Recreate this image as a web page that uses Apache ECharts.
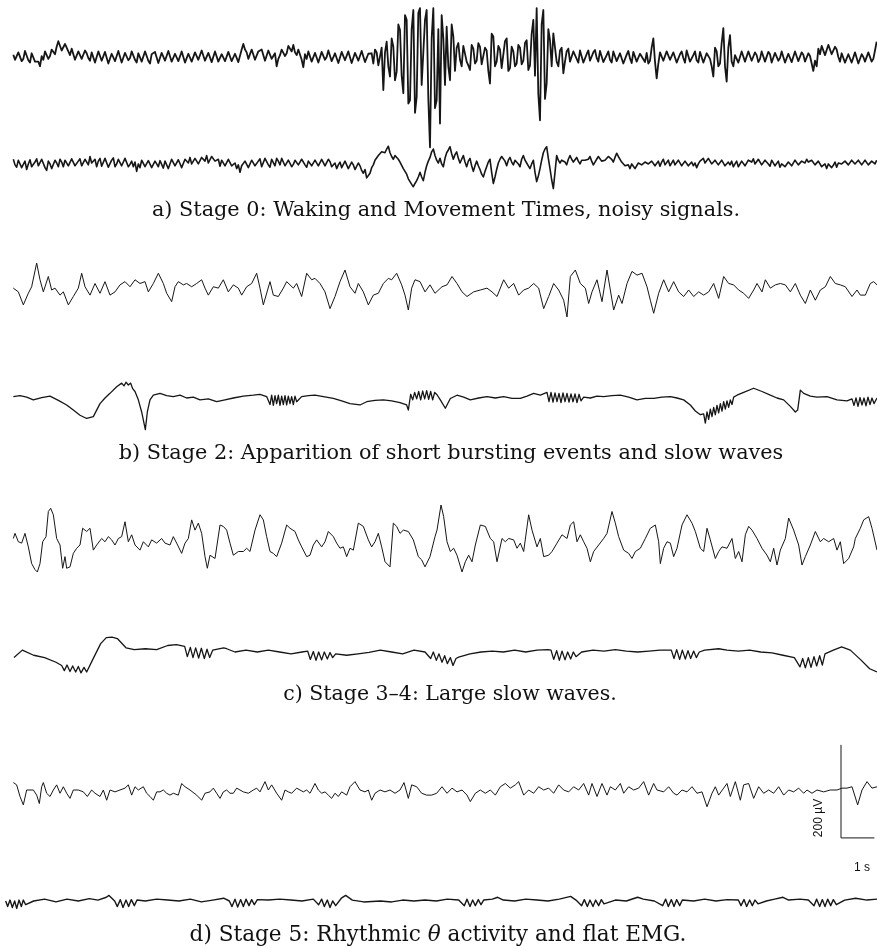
<!DOCTYPE html>
<html>
<head>
<meta charset="utf-8">
<script src="https://cdn.jsdelivr.net/npm/echarts@6/dist/echarts.min.js"></script>
<style>
html, body { margin: 0; padding: 0; background: #ffffff; }
#chart { width: 877px; height: 948px; }
</style>
</head>
<body>
<div id="chart"></div>
<script>
// Recordings are indexed by sample number, sampled at 100 Hz.
const FS = 100;
const N_SAMPLES = 2631;

// Stage 0 channels: one value every 5 samples, starting at sample 40 (µV).
const STAGE0_START = 40;
const STAGE0_STEP = 5;
const stage0Eeg = [
  5, -6, -8, 10, 12, -9, -4, 13, 9, -7, -12, 8, 6, -10, -6, -10,
  -20, 2, -6, 12, 8, -4, 2, 16, 14, 6,
  22, 34, 30, 14, 18, 28, 24, 12,
  4, 18, 14, -6, -2, 12, 10, -4, 0, 14, 8, -2,
  -8, 10, 6, -12, -10, 12, 10, -8, -4, 11, 8, -14, -12, 7, 4, -9, -6, 13, 10, -12, -10, 9, 6, -7, -2, 12, 9, -6,
  -12, 8, 4, -10, -6, 12, 10, -8, -14, 6, 2, 11, 8, -13, -10, 9, 6, -8, -4, 13,
  11, -10, -12, 7, 3, -9, -6, 12, 10, -12, -9, 7, 4, -10, -13, 10, 7, -6, -3, 14,
  12, -8, -10, 9, 5, -11, -8, 12, 9, -10, -14, 6, 2, -9, -6, 11, 8, -9, -12, 7, 3, -11, -8, 16,
  28, 16,
  10, -4, 0, 16, 14, -6, -2, 12, 8, 16, 12, -8, -6, 14, 10, -4, 2, 8,
  -20, -4,
  4, 16, 14, 2, 8, 24, 20, 12,
  26, 10,
  4, 16, 12, -6,
  -22, 6,
  -4, 12, 10, -10, -8, 9, 6, -12, -10, 11, 8, -6, 0, 14, 12, -9, -6, 8, 4, -13,
  -12, 11, 9, -7, -3, 12, 8, -13, -10, 9, 6, -8, -5, 13, 11, -11, -8, 7, 3, 8,
  -14, 16, 10, -18, -20, 20,
  -71, 10, 33, -20, -42, 40, 22, -50, -32, 70, 58, -40, -78, 90, 80, -100, -93, 60, 101, -120,
  -86, 95, 105, -60, -57, 80, 101, -90, -194, 40, 105, -110, -93, 60,
  -143, 90, 40, -60, 65, -20, -50, 70, 44, -30,
  20, 30, -6, -20, 24, 28, -10, -18, -28, 26, 18, -14, -8, 30, 22, -16, -12, 20, 14, -30,
  -57, 50, 44, -20, -10, 24, 16, -24, -20, 34, 40, -30, -24, 22, 12, -20, -14, 26, 20, -16,
  -8, 30, 36, -28, -18, 50, 80, -40,
  105, -80, -136, 70, 101, -90, -57, 60, 36, -20, 51, 20, -10, -20, 14, 20, -35, -10, 12, 18,
  -10, -14, 12, 16, -4, -12, 14, 10, -12, -16, 6, 14, -8, -12, 10, 15, -2, -10, 13, 9,
  -11, -14, 4, 12, -6, -12, 12, 14, -9, -13, 8, 12, -14, -10, 5, 13, -3, -13, 11, 14,
  -10, -12, 7, 11, -5, -11, 9, -14,
  -8, 20, 40, -10, -46, -14, 10, 14,
  -8, -12, 12, 14, -6, -10, 10, 13, -12, -8, 6, 12, -2, -12, 14, 10, -10, -14, 4, 12,
  -7, -12, 11, 13, -12, -9, 8, 12, -4, -20,
  -42, 20, 12, -20, -14, 30, 62, -20, -53, 20, 47, -10, -20, 4, 8, -12,
  -10, 12, 8, -10, -6, 12, 10, -8, -12, 10, 4, -11, -4, 12, 9, -10, -8, 11, 6, -12,
  -13, 9, 7, -8, -2, 12, 10, -12, -9, 7, 3, -11, -7, 12, 8, -9, -11, 10, 5, -10,
  -6, 8, 2, -14,
  -30, -8, -20, 18,
  6, 24, 20, 4, 8, 26, 24, 6, 4, 22, 16, 0,
  -10, 8, 4, -12, -14, 6, 2, -12, -8, 10, 6, -14, -12, 6, 0, -10, -6, 10, 8, -10, -4, 14,
  33
];
const stage0Emg = [
  8, -4, -9, 6, 10, -10, -6, 4, -14, -2, 7, -8, -12, 2, 9, -6, -5, 8, 6, -10,
  -16, 4, -2, -12, -14, 6, 0, -8,
  8, 2, -8, 6, 10, -6, -4, 9, 7, -6, -10, 4, 9, -6, -2, 8, 5, -4,
  14, 0,
  4, 8, -8, 4, 10, -7, -3, 10, 8, -9, -6, 6, 11, -8, -2, 8, 9, -6, -5, 10, 10, -8, -3, 4, -8, 2,
  -18, -2,
  -10, 6, 3, -8, -12, 5, 1, -10, -14, 4, -2, -8, 5, 2, -11, 4, 3, -12, -9, 8, 6, -6, -10, 7, 4, -10, -8, 8, 7, 0,
  12, -2, 0, 10, 14, -2, 2, 12, 9, 4, 16, 0, 2, 14, 18, 4,
  6, 8, -7, 6, 5, -6, -9, 8, 6, -6, -10, 0, -12, -4,
  -20, -6,
  -8, 4, 6, -10, -8, 6, 8, -6, -7, 4, 9, -8, -6, 10, 7, -4, -9, 8, 5, -6,
  10, 4, -4, 10, 8, -6, -8, 6, 7, -8, -3, 6, 9, -4, -7, 8, 5, -4, -9, 4, 8, -6,
  -5, 6, 7, -6, -8, 8, 5, -6, -10, 8, 3, -8, -7, 0,
  -12, -4, 2, -10, -14, 4, 0, -12, -16, 2, -4, -14, -18, 0, -6, -16, -22, -14,
  -32, -30,
  -22, -10, -4, 6, 8, 16, 12, 24, 26, 22, 30, 36, 22, 14,
  8, 16, 20, 8, 2, -2,
  -12, -18, -24, -34, -40, -46, -51, -44, -38, -30,
  -20, -30, -38, -20, -6, 4, 12, 24, 30, 16, 6, 0,
  10, -2, -8, 10, 22, 28, 35, 20,
  8, 18, 24, 10, 0, 8, 16, 2, -8, 4, 10, -6, -18, -6, 4, -6, -14, -24, -30, -18, -8, 2, 8, -20,
  -44, -30,
  -14, 0, 8, 14, 16, 4, -6, 6, 12, 2, -4, 6, 10, -2, -8, 8, 16, 6, 0, -6, -12, -2, 6, -20,
  -40, -28,
  -12, 6, 22, 30,
  35, 10,
  -12, -36,
  -55, -20,
  16, 6, 0, 6, 10, 2, -4, 8, 16, 8, 2, 6, 12, 4, -2, 6, 10, 6, 2, 8,
  14, 4, -4, 2, 8, 14, 12, 4, 0, 6, 10, 14, 16, 8, 2, 12, 21, 14,
  10, 2, -2, -6, -8, -4, -12, -2, -4, -12, -10, 0, 4, -4, -6, 2, 6, -2, -5, 4, 7, -6,
  -3, 4, -7, 2, 8, -4, 0, 6, -6, -2, 6, -4, -5, 6, 5, -6, -9, 4, -1, -6, -10, 2,
  -6, 0, -10, -2, 4, 8, 10, 0, 2, 10, 8, -2, -5, 6, 5, -4, -8, 6, 2, -6, -9, 2,
  -4, 4, -8, -2, 4, -8, -6, 4, 6, -6, -2, 6, 8, 2, 9, -2, 1, 8, 7, -4, -5, 6,
  4, -2, -7, 6, 5, -6, -4, 4, -9, -2, 2, -8, -10, 2, -1, -6, -8, 6, 4, -4, -6, 4,
  6, 0, 8, 2, -2, 6, 5, -4, -7, 4, 0, -8, -10, -2, -12, -2, -4, -10, -5, 2, -9, 0,
  2, -2, -6, 4, 5, -4, 0, 6, 7, -2, -5, 6, 4, -4, -6, 6, 2, -4, -7, 4, 0, -2, 6
];

// Stage 2 channels: [sample, µV]
const stage2Eeg = [
  [40,4],[55,-4],[70,-32],[85,-7],[95,7],[110,58],[120,22],[130,-4],[145,29],[155,0],[165,4],[180,-11],
  [190,-4],[205,-32],[220,-14],[235,4],[245,36],[255,7],[270,-11],[285,14],[300,-7],[315,18],[330,-11],
  [345,-4],[360,11],[375,18],[390,7],[405,22],[420,14],[435,18],[445,-4],[460,14],[475,36],[490,14],
  [500,-7],[515,-25],[525,7],[535,18],[550,11],[560,14],[575,7],[590,14],[605,22],[615,4],[625,-11],
  [640,7],[655,4],[670,22],[685,-4],[700,11],[715,4],[725,-11],[740,7],[755,14],[770,36],[780,4],
  [790,-32],[810,18],[820,-11],[835,-14],[850,4],[860,18],[880,4],[890,14],[905,-14],[920,36],[935,22],
  [945,25],[960,14],[975,-4],[990,-40],[1005,-14],[1020,18],[1035,43],[1050,7],[1065,-7],[1075,14],
  [1090,-4],[1105,-32],[1120,-11],[1135,-7],[1150,14],[1165,25],[1175,22],[1190,36],[1205,11],[1215,-11],
  [1225,-43],[1235,4],[1245,22],[1260,18],[1275,-4],[1290,11],[1305,-7],
  [1311,-7],[1326,7],[1341,11],[1356,29],[1371,14],[1386,-4],[1401,-14],[1421,-4],[1441,0],[1461,4],
  [1476,-4],[1491,-14],[1511,22],[1526,4],[1541,14],[1556,-11],[1571,0],[1586,4],[1601,14],[1616,4],
  [1631,-40],[1646,-14],[1661,14],[1676,0],[1691,-22],[1701,-58],[1711,29],[1726,43],[1741,14],[1756,4],
  [1766,-29],[1776,-4],[1791,22],[1806,-25],[1821,43],[1831,0],[1841,-43],[1856,-11],[1866,-29],[1881,14],
  [1896,40],[1911,32],[1926,36],[1941,7],[1951,-22],[1961,-50],[1976,-7],[1991,22],[2006,-4],[2021,18],
  [2036,-4],[2051,-14],[2066,0],[2081,-14],[2096,-4],[2111,-11],[2126,-4],[2141,14],[2156,-18],[2171,29],
  [2186,14],[2201,11],[2216,0],[2231,-7],[2246,-18],[2261,0],[2271,14],[2286,-4],[2296,22],[2311,4],
  [2326,11],[2341,14],[2356,11],[2371,-4],[2386,14],[2401,-11],[2416,-29],[2431,0],[2446,-22],[2461,0],
  [2476,7],[2491,29],[2506,14],[2521,11],[2536,7],[2556,-14],[2571,0],[2581,-11],[2596,-11],[2611,14],
  [2621,18],[2631,11]
];
const stage2Emg = [
  [40,3],[60,5],[80,2],[100,-4],[125,1],[150,4],[175,-5],[200,-15],[220,-26],[240,-37],[260,-44],[280,-40],
  [300,-12],[315,0],[330,10],[350,24],[365,32],[372,26],[378,34],[385,28],[392,32],[398,20],[405,14],
  [415,-4],[425,-30],[436,-68],[442,-30],[450,-4],[460,6],[480,10],[500,5],[520,3],[540,6],[560,0],
  [580,2],[600,-4],[625,-2],[650,-8],[675,-4],[700,0],[730,4],[760,6],[780,8],[800,3],
  [805,6],[810,-14],[815,6],[820,-16],[825,5],[830,-12],[835,6],[840,-16],[845,4],[850,-14],[855,5],
  [860,-15],[865,4],[870,-12],[875,3],[880,-14],[885,4],[890,-8],
  [905,3],[925,5],[945,6],[970,3],[1000,-1],[1025,-6],[1050,-12],[1080,-15],[1100,-8],[1125,-5],
  [1150,-4],[1175,-6],[1200,-10],[1220,-15],[1225,-26],[1232,8],
  [1238,-4],[1244,12],[1250,-2],[1256,14],[1262,-4],[1268,15],[1274,-2],[1280,16],[1286,-3],[1292,14],
  [1298,-4],[1304,12],[1311,7],[1321,-4],[1336,-22],[1351,-1],[1371,6],[1391,2],[1411,-4],[1436,0],
  [1461,3],[1486,0],[1511,3],[1536,-1],[1561,-1],[1581,4],[1601,10],[1621,6],
  [1641,12],[1647,-8],[1653,12],[1659,-9],[1665,11],[1671,-8],[1677,10],[1683,-10],[1689,11],[1695,-8],
  [1701,10],[1707,-9],[1713,9],[1719,-8],[1725,9],[1731,-10],[1737,8],[1743,-6],
  [1751,2],[1771,0],[1791,4],[1811,3],[1836,5],[1861,6],[1886,2],[1911,-4],[1936,-1],[1961,-1],
  [1986,2],[2011,3],[2031,0],[2051,-4],[2071,-15],[2086,-28],[2101,-36],[2111,-34],[2116,-54],
  [2121,-30],[2126,-46],[2131,-24],[2136,-40],[2141,-20],[2146,-36],[2151,-16],[2156,-32],[2161,-12],
  [2166,-28],[2171,-8],[2176,-24],[2181,-6],[2186,-20],[2191,-4],[2196,-14],[2201,2],
  [2211,6],[2231,12],[2261,21],[2286,14],[2311,6],[2331,0],[2351,-4],[2371,-18],[2386,-30],[2393,-26],
  [2401,17],[2411,10],[2431,4],[2451,2],[2481,3],[2511,-4],[2541,-6],
  [2556,-2],[2562,-16],[2568,0],[2574,-18],[2580,1],[2586,-15],[2592,0],[2598,-17],[2604,2],[2610,-14],
  [2616,0],[2622,-12],[2631,0]
];

// Stage 3–4 channels: [sample, µV]
const stage34Eeg = [
  [40,14],[45,25],[55,7],[65,4],[75,25],[85,-4],[95,-40],[105,-53],[112,-58],[120,-40],[128,7],[138,18],
  [145,72],[152,79],[160,65],[170,14],[180,0],[188,-50],[195,-25],[200,-50],[210,-47],[220,-18],[230,-7],
  [240,0],[248,36],[260,29],[270,36],[280,-11],[290,0],[305,14],[315,7],[325,18],[335,11],[345,0],
  [355,14],[365,18],[375,50],[385,7],[395,22],[405,0],[420,-11],[430,7],[445,-4],[455,11],[470,4],
  [485,14],[495,4],[510,0],[520,18],[530,4],[545,-18],[555,4],[565,14],[575,54],[585,32],[595,47],
  [605,25],[615,-25],[622,-50],[630,-22],[645,-29],[660,43],[670,40],[680,32],[690,4],[700,-22],
  [715,-14],[730,-14],[740,-7],[750,-14],[765,32],[780,65],[790,54],[800,18],[810,-14],[820,-18],
  [830,-25],[845,4],[860,43],[870,36],[885,29],[895,11],[905,-4],[920,-25],[930,-22],[940,0],[950,11],
  [965,-4],[975,7],[985,29],[1000,18],[1010,4],[1020,-7],[1030,-4],[1040,-25],[1050,-7],[1060,-11],
  [1075,47],[1090,40],[1105,11],[1115,-4],[1125,7],[1135,25],[1145,-4],[1155,-36],[1170,-47],[1180,47],
  [1190,40],[1200,25],[1210,32],[1225,29],[1240,11],[1255,-25],[1265,-32],[1275,-47],[1290,-25],[1305,18],
  [1311,32],[1323,86],[1331,61],[1341,7],[1351,-14],[1361,-7],[1371,-22],[1386,-58],[1396,-36],[1406,-22],
  [1416,-36],[1426,0],[1441,43],[1456,40],[1471,14],[1481,7],[1491,-36],[1506,14],[1516,7],[1526,14],
  [1541,11],[1551,-7],[1561,4],[1571,-14],[1586,65],[1596,32],[1611,-4],[1621,14],[1631,-25],[1646,-22],
  [1656,-14],[1671,4],[1686,22],[1701,14],[1711,43],[1721,50],[1731,7],[1741,22],[1751,7],[1761,-7],
  [1771,-36],[1781,-14],[1796,0],[1811,14],[1821,25],[1836,72],[1846,47],[1856,18],[1871,-11],[1886,-18],
  [1896,-29],[1906,-14],[1921,-7],[1936,14],[1951,36],[1966,43],[1976,7],[1981,-40],[1991,-7],[2001,7],
  [2011,4],[2021,-25],[2031,-7],[2046,43],[2061,65],[2076,47],[2086,29],[2101,-7],[2111,-14],[2121,36],
  [2131,11],[2146,-29],[2156,-14],[2166,-4],[2181,-7],[2196,14],[2206,-29],[2216,-14],[2226,-36],[2236,22],
  [2246,40],[2256,32],[2271,14],[2286,-7],[2301,-22],[2311,-36],[2321,-7],[2331,-43],[2341,-11],[2356,14],
  [2366,58],[2381,32],[2396,0],[2406,-43],[2416,-25],[2431,0],[2446,29],[2461,7],[2471,14],[2486,7],
  [2501,14],[2511,-11],[2521,7],[2531,-40],[2546,-29],[2561,-4],[2566,14],[2581,36],[2591,54],[2606,61],
  [2616,36],[2631,-11]
];
const stage34Emg = [
  [42,-12],[67,4],[101,-7],[134,-12],[168,-22],[185,-29],
  [193,-40],[201,-28],[210,-42],[218,-30],[227,-43],[235,-31],[243,-45],[252,-33],[260,-43],
  [277,-18],[302,18],[319,31],[336,32],[352,29],[378,9],[403,5],[436,7],[470,5],[503,14],[529,16],[554,12],
  [562,-10],[571,10],[579,-12],[587,9],[596,-13],[604,8],[613,-14],[621,6],[629,-12],[638,4],
  [671,9],[680,7],[705,0],[738,4],[772,0],[805,4],[839,0],[873,-4],[906,0],
  [923,2],[931,-16],[940,1],[948,-18],[956,0],[965,-17],[973,0],[982,-15],[990,-1],[998,-12],
  [1007,-4],[1040,-7],[1074,-4],[1107,-1],[1141,4],[1175,0],[1208,-4],[1242,4],[1275,0],
  [1292,-14],[1300,0],[1309,-18],[1317,-4],[1326,-22],[1334,-8],[1342,-25],[1351,-12],[1359,-29],[1368,-14],
  [1376,-11],[1410,-4],[1443,0],[1477,2],[1510,0],[1544,4],[1577,0],[1611,4],[1644,5],
  [1653,4],[1661,-16],[1670,3],[1678,-18],[1686,2],[1695,-17],[1703,0],[1712,-15],[1720,0],[1728,-10],
  [1745,0],[1779,4],[1812,2],[1846,5],[1879,2],[1913,0],[1947,2],[1980,4],
  [2014,4],[2022,-14],[2030,5],[2039,-16],[2047,4],[2056,-15],[2064,3],[2072,-14],[2081,2],[2089,-12],[2098,0],
  [2114,4],[2156,7],[2181,4],[2215,2],[2249,4],[2282,0],[2316,-2],[2349,-7],[2383,-12],
  [2400,-32],[2408,-14],[2416,-34],[2425,-12],[2433,-33],[2442,-10],[2450,-30],[2459,-8],[2467,-28],[2475,-4],
  [2500,4],[2525,11],[2551,4],[2584,-18],[2609,-36],[2631,-43]
];

// Stage 5 channels: [sample, µV]
const stage5Eeg = [
  [40,16],[50,11],[60,-14],[70,-32],[80,0],[90,0],[100,0],[110,-11],[118,-29],[125,7],[130,16],[140,-7],
  [150,-14],[160,0],[170,11],[180,-7],[190,7],[200,-7],[210,-18],[220,0],[235,0],[250,-4],[262,-14],
  [275,0],[285,-7],[300,-14],[310,0],[320,-22],[330,0],[345,-4],[360,0],[375,4],[385,11],[395,-11],
  [405,7],[415,0],[430,7],[440,-7],[450,-14],[460,-22],[470,-4],[480,-4],[490,0],[500,-7],[510,-11],
  [520,-7],[535,-11],[545,14],[555,7],[570,0],[590,-11],[605,-22],[615,-7],[630,-4],[640,4],[650,-7],
  [660,-18],[670,-4],[680,0],[690,-7],[700,-7],[710,4],[720,0],[730,-4],[745,-7],[760,0],[770,4],
  [780,-4],[795,18],[805,0],[815,11],[830,-7],[845,-22],[855,0],[865,-4],[875,-7],[890,4],[900,0],
  [910,-4],[920,0],[930,-7],[945,14],[955,0],[965,-7],[975,-4],[985,-11],[995,-18],[1005,-7],[1015,-14],
  [1025,-4],[1040,-11],[1050,7],[1065,18],[1080,0],[1095,-4],[1105,0],[1115,-22],[1125,-7],[1140,0],
  [1155,-4],[1170,0],[1185,-7],[1200,0],[1212,16],[1225,-18],[1235,11],[1250,7],[1265,-7],[1280,-11],
  [1295,-11],[1310,-7],
  [1326,7],[1341,-7],[1356,4],[1371,-4],[1386,0],[1401,-11],[1411,-25],[1426,-7],[1441,0],[1456,-7],
  [1471,0],[1486,-11],[1501,7],[1516,14],[1531,4],[1546,11],[1556,18],[1571,-11],[1586,0],[1601,-7],
  [1616,7],[1631,0],[1646,4],[1661,-7],[1676,11],[1691,0],[1706,-4],[1721,7],[1736,0],[1751,14],
  [1766,-11],[1776,14],[1791,-14],[1806,14],[1821,-11],[1831,7],[1846,0],[1861,14],[1871,-7],[1886,7],
  [1901,0],[1916,4],[1931,18],[1946,-11],[1961,14],[1971,0],[1991,-4],[2006,7],[2021,-7],[2031,-11],
  [2046,0],[2061,-4],[2076,7],[2091,-7],[2106,-4],[2121,-36],[2136,-7],[2146,7],[2156,-11],[2171,4],
  [2181,14],[2191,-14],[2206,18],[2221,-22],[2231,11],[2246,14],[2261,-18],[2276,7],[2291,-7],[2306,0],
  [2321,-7],[2336,7],[2351,-11],[2366,0],[2381,-4],[2396,4],[2411,-7],[2421,0],[2436,-7],[2451,0],
  [2471,-4],[2491,0],[2511,0],[2526,4],[2541,4],[2556,7],[2573,-32],[2586,0],[2601,18],[2616,4],[2631,7]
];
const stage5Emg = [
  [17,0],[23,-12],[30,2],[37,-14],[44,0],[50,-16],[57,2],[64,-12],[70,2],[77,-8],
  [101,0],[134,4],[168,-2],[201,4],[235,0],[268,5],[294,2],[319,8],[327,12],[344,0],
  [352,-12],[361,3],[369,-14],[378,2],[386,-12],[394,3],[403,-10],[411,2],
  [436,0],[470,4],[503,2],[537,0],[571,4],[604,-2],[638,2],[671,6],[688,0],
  [696,-12],[705,4],[713,-13],[722,3],[730,-12],[738,4],[747,-10],[755,3],[763,-8],[772,3],
  [805,2],[839,4],[873,2],[906,0],[940,4],
  [956,-8],[965,4],[973,-12],[982,2],[990,-14],[998,0],[1007,-10],
  [1024,6],[1037,12],[1057,2],[1091,-2],[1141,0],[1175,-2],[1208,2],[1242,0],[1275,2],[1309,0],[1342,4],[1376,2],
  [1393,-10],[1401,4],[1410,-12],[1418,2],[1426,-10],[1435,3],[1443,-8],[1451,2],
  [1477,4],[1493,8],[1510,2],[1544,0],[1577,4],[1611,2],[1644,0],[1678,4],[1712,10],[1728,2],
  [1745,-10],[1753,3],[1762,-12],[1770,2],[1779,-12],[1787,2],[1796,-10],[1804,3],[1812,-6],
  [1846,2],[1879,0],[1913,8],[1930,4],[1963,0],
  [1988,-10],[1997,4],[2005,-12],[2014,3],[2022,-12],[2030,3],[2039,-10],[2047,2],
  [2081,0],[2114,4],[2148,0],[2181,3],[2215,2],
  [2223,-10],[2232,3],[2240,-12],[2249,2],[2257,-10],[2265,2],[2274,-6],
  [2299,0],[2324,4],[2349,8],[2366,2],[2400,4],[2425,2],
  [2442,-10],[2450,4],[2459,-12],[2467,3],[2475,-12],[2483,4],[2492,-10],[2500,3],[2509,-8],
  [2534,2],[2567,6],[2601,2],[2631,4]
];

// Calibration bar
const SCALE_UV = 200;
const SCALE_S = 1;

const captions = [
  'a) Stage 0: Waking and Movement Times, noisy signals.',
  'b) Stage 2: Apparition of short bursting events and slow waves',
  'c) Stage 3–4: Large slow waves.',
  'd) Stage 5: Rhythmic θ activity and flat EMG.'
];

// ---- layout ----
const PX_PER_UV = 1 / 2.15;   // vertical gain shared by every trace
const GRID_H = 80;            // each trace gets a small band; lines are not clipped to it
function STAGE0_TO_PAIRS(values) {
  return values.map((v, i) => [STAGE0_START + i * STAGE0_STEP, v]);
}
const traceRows = [
  { data: STAGE0_TO_PAIRS(stage0Eeg), base: 57, width: 1.8 },
  { data: STAGE0_TO_PAIRS(stage0Emg), base: 163, width: 1.6 },
  { data: stage2Eeg, base: 290, width: 1 },
  { data: stage2Emg, base: 398, width: 1.3 },
  { data: stage34Eeg, base: 545, width: 1 },
  { data: stage34Emg, base: 652, width: 1.3 },
  { data: stage5Eeg, base: 790, width: 1 },
  { data: stage5Emg, base: 901, width: 1.4 }
];
const captionStyle = [
  { x: 446, y: 211, size: 20.8 },
  { x: 451, y: 454, size: 20.8 },
  { x: 450, y: 695, size: 20.5 },
  { x: 438, y: 935, size: 21.6 }
];
const BAR_ROW = 6;       // calibration bar lives with the stage 5 EEG
const BAR_X0 = 2523;     // sample where the bar starts
const BAR_TOP = 97;      // µV level of the top of the bar

const grids = [], xAxes = [], yAxes = [], series = [];
const halfRange = (GRID_H / 2) / PX_PER_UV;
traceRows.forEach((row, i) => {
  grids.push({
    left: 0, right: 0, top: row.base - GRID_H / 2, height: GRID_H,
    containLabel: false, outerBoundsMode: 'none'
  });
  xAxes.push({ gridIndex: i, type: 'value', min: 0, max: N_SAMPLES, show: false });
  yAxes.push({ gridIndex: i, type: 'value', min: -halfRange, max: halfRange, show: false });
  series.push({
    type: 'line', xAxisIndex: i, yAxisIndex: i, data: row.data,
    symbol: 'none', clip: false, silent: true,
    lineStyle: { color: '#161616', width: row.width, join: 'round' }
  });
});
series.push({
  type: 'line', xAxisIndex: BAR_ROW, yAxisIndex: BAR_ROW, symbol: 'none', clip: false, silent: true,
  data: [[BAR_X0, BAR_TOP], [BAR_X0, BAR_TOP - SCALE_UV], [BAR_X0 + SCALE_S * FS, BAR_TOP - SCALE_UV]],
  lineStyle: { color: '#161616', width: 1 }
});

const serif = '"DejaVu Serif", "Liberation Serif", serif';
const graphics = captions.map((t, i) => {
  const c = captionStyle[i];
  const rich = t.indexOf('θ') >= 0;
  return {
    type: 'text', x: c.x, y: c.y, silent: true,
    style: {
      text: rich ? t.replace('θ', '{th|θ}') : t,
      fontFamily: serif, fontSize: c.size, fill: '#111',
      align: 'center', verticalAlign: 'middle',
      textAlign: 'center', textVerticalAlign: 'middle',
      rich: { th: { fontFamily: serif, fontSize: c.size, fontStyle: 'italic', fill: '#111' } }
    }
  };
});
graphics.push({
  type: 'text', x: 819, y: 818, rotation: Math.PI / 2, silent: true,
  style: {
    text: SCALE_UV + ' µV', fontFamily: '"Liberation Sans", Arial, sans-serif', fontSize: 12, fill: '#111',
    align: 'center', verticalAlign: 'middle', textAlign: 'center', textVerticalAlign: 'middle'
  }
});
graphics.push({
  type: 'text', x: 862, y: 868, silent: true,
  style: {
    text: SCALE_S + ' s', fontFamily: '"Liberation Sans", Arial, sans-serif', fontSize: 12, fill: '#111',
    align: 'center', verticalAlign: 'middle', textAlign: 'center', textVerticalAlign: 'middle'
  }
});

const chart = echarts.init(document.getElementById('chart'), null, { renderer: 'canvas' });
chart.setOption({
  animation: false,
  backgroundColor: '#ffffff',
  grid: grids,
  xAxis: xAxes,
  yAxis: yAxes,
  series: series,
  graphic: { elements: graphics }
});
</script>
</body>
</html>
